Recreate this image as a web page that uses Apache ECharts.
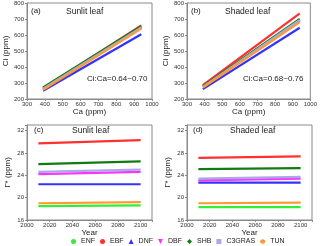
<!DOCTYPE html>
<html><head><meta charset="utf-8">
<script src="https://cdn.jsdelivr.net/npm/echarts@6/dist/echarts.min.js"></script>
<style>html,body{margin:0;padding:0;background:#fff}#c{width:320px;height:246px}</style>
</head><body><div id="c"></div>
<script>
const pfts = ['ENF','EBF','DNF','DBF','SHB','C3GRAS','TUN'];
const pftColors = ['#33ee33','#ff3030','#3333ff','#ff33ff','#117a11','#a9a9e6','#ff9933'];
const pftIcons = ['circle','circle','triangle','path://M0,0L10,0L5,10Z','diamond','rect','path://M5,0L10,3L10,7L5,10L0,7L0,3Z'];
const caValues = [390, 940];
const yearValues = [2010, 2100];
const sunlitCiStart = [268, 266, 252, 262, 272, 265, 258];
const sunlitCiEnd   = [650, 660, 605, 645, 655, 648, 640];
const shadedCiStart = [278, 286, 262, 275, 281, 276, 272];
const shadedCiEnd   = [698, 735, 645, 690, 700, 695, 680];
const sunlitGammaStart = [18.5, 29.7, 22.4, 24.2, 26.0, 24.6, 19.0];
const sunlitGammaEnd   = [18.6, 30.3, 22.4, 24.6, 26.5, 25.0, 19.2];
const shadedGammaStart = [18.3, 27.1, 22.7, 23.1, 25.1, 23.4, 19.0];
const shadedGammaEnd   = [18.3, 27.4, 22.7, 23.4, 25.3, 23.7, 19.1];
const caTicks = {min: 300, max: 1000, interval: 100};
const ciTicks = {min: 200, max: 800, interval: 100};
const yearTicks = {min: 2000, max: 2110, interval: 20};
const gammaTicks = {min: 16, max: 33, interval: 4};

const chart = echarts.init(document.getElementById('c'), null, {renderer: 'canvas'});
const axisCol = '#8a8a8a';
const lblFont = 6;
function mkX(gi, t, name) {
  return {gridIndex: gi, type: 'value', min: t.min, max: t.max, interval: t.interval,
    name: name, nameLocation: 'middle', nameGap: name === 'Year' ? 8 : 9,
    nameTextStyle: {fontSize: 8, color: '#222', fontFamily: 'Liberation Sans'},
    axisLine: {show: true, lineStyle: {color: axisCol}},
    axisTick: {show: true, inside: false, length: 2, lineStyle: {color: axisCol}},
    axisLabel: {fontSize: lblFont, color: '#333', margin: 2, fontFamily: 'Liberation Sans',
      formatter: v => (v % t.interval === 0 ? String(v) : '')},
    splitLine: {show: false}};
}
function mkY(gi, t, name) {
  return {gridIndex: gi, type: 'value', min: t.min, max: t.max, interval: t.interval,
    name: name, nameLocation: 'middle', nameGap: 15,
    nameTextStyle: {fontSize: 8, color: '#222', fontFamily: 'Liberation Sans'},
    axisLine: {show: true, lineStyle: {color: axisCol}},
    axisTick: {show: true, inside: false, length: 2, lineStyle: {color: axisCol}},
    axisLabel: {fontSize: lblFont, color: '#333', margin: 3, fontFamily: 'Liberation Sans',
      formatter: v => (v % t.interval === 0 ? String(v) : '')},
    splitLine: {show: false}};
}
const series = [];
function addPanel(gi, xs, starts, ends) {
  pfts.forEach((p, i) => {
    series.push({name: p, type: 'line', xAxisIndex: gi, yAxisIndex: gi,
      data: [[xs[0], starts[i]], [xs[1], ends[i]]],
      showSymbol: false, symbol: pftIcons[i], symbolSize: 5,
      lineStyle: {color: pftColors[i], width: 2.2}, itemStyle: {color: pftColors[i]},
      silent: true, animation: false, z: 2});
  });
}
addPanel(0, caValues, sunlitCiStart, sunlitCiEnd);
addPanel(1, caValues, shadedCiStart, shadedCiEnd);
addPanel(2, yearValues, sunlitGammaStart, sunlitGammaEnd);
addPanel(3, yearValues, shadedGammaStart, shadedGammaEnd);

const gridCommon = {show: true, borderColor: axisCol, borderWidth: 1, backgroundColor: 'transparent'};
function txt(x, y, s, size) {
  return {type: 'text', left: x, top: y, style: {text: s, fontSize: size, fill: '#222', fontFamily: 'Liberation Sans'}};
}
chart.setOption({
  animation: false,
  grid: [
    Object.assign({left: 27, top: 3, width: 125, height: 96}, gridCommon),
    Object.assign({left: 187, top: 3, width: 125, height: 96}, gridCommon),
    Object.assign({left: 27, top: 125, width: 125, height: 95}, gridCommon),
    Object.assign({left: 187, top: 125, width: 125, height: 95}, gridCommon)
  ],
  xAxis: [mkX(0, caTicks, 'Ca (ppm)'), mkX(1, caTicks, 'Ca (ppm)'), mkX(2, yearTicks, 'Year'), mkX(3, yearTicks, 'Year')],
  yAxis: [mkY(0, ciTicks, 'Ci (ppm)'), mkY(1, ciTicks, 'Ci (ppm)'), mkY(2, gammaTicks, 'Γ* (ppm)'), mkY(3, gammaTicks, 'Γ* (ppm)')],
  legend: {top: 238, left: 71, itemWidth: 5, itemHeight: 5, itemGap: 5, padding: 0,
    textStyle: {fontSize: 7, color: '#222', fontFamily: 'Liberation Sans'},
    data: pfts.map((p, i) => ({name: p, icon: pftIcons[i], itemStyle: {color: pftColors[i]}}))},
  graphic: [
    txt(31, 7, '(a)', 8), txt(66, 7, 'Sunlit leaf', 8.5), txt(87, 75, 'Ci:Ca=0.64~0.70', 8),
    txt(191, 7, '(b)', 8), txt(225, 7, 'Shaded leaf', 8.5), txt(243, 75, 'Ci:Ca=0.68~0.76', 8),
    txt(34, 126, '(c)', 8), txt(72, 126, 'Sunlit leaf', 8.5),
    txt(193, 126, '(d)', 8), txt(230, 126, 'Shaded leaf', 8.5)
  ],
  series: series
});
</script></body></html>
